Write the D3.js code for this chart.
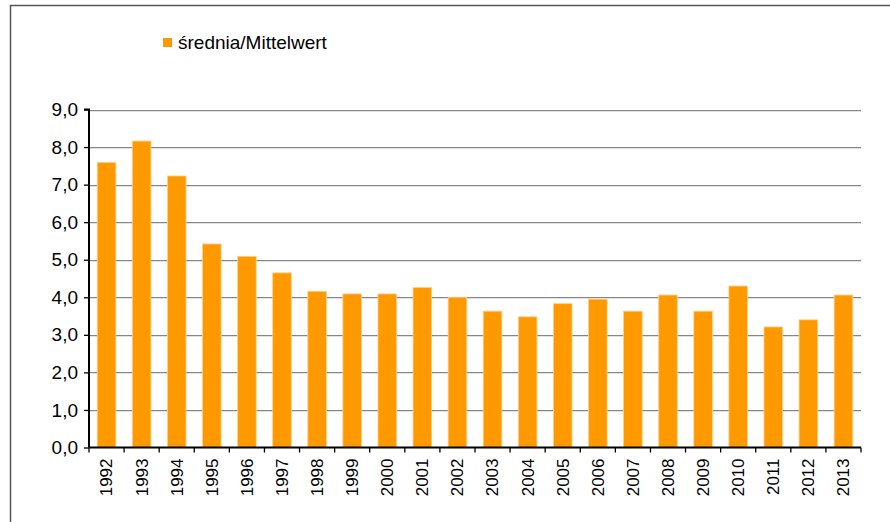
<!DOCTYPE html>
<html>
<head>
<meta charset="utf-8">
<script src="https://cdn.jsdelivr.net/npm/d3@7"></script>
<style>
  body { margin: 0; background: #fff; }
  svg { display: block; font-family: "Liberation Sans", Arial, sans-serif; }
</style>
</head>
<body>
<svg id="chart" width="890" height="522"></svg>
<script>
const years = ["1992","1993","1994","1995","1996","1997","1998","1999","2000","2001","2002",
               "2003","2004","2005","2006","2007","2008","2009","2010","2011","2012","2013"];
const values = [7.59, 8.16, 7.23, 5.42, 5.09, 4.65, 4.16, 4.09, 4.09, 4.26, 4.00,
                3.63, 3.48, 3.83, 3.95, 3.63, 4.06, 3.63, 4.30, 3.21, 3.40, 4.06];
const yTicks = [0,1,2,3,4,5,6,7,8,9];
const seriesName = "średnia/Mittelwert";

const svg = d3.select("#chart");
const pL = 89, pR = 861, pT = 109.5, pB = 447.5;

// outer frame
svg.append("path").attr("d", `M10.5,522 L10.5,5.5 L890,5.5`)
  .attr("fill", "none").attr("stroke", "#555").attr("stroke-width", 1.5);

const x = d3.scaleBand().domain(years).range([pL, pR])
  .paddingInner(0.47).paddingOuter(0.235);
const y = d3.scaleLinear().domain([0, 9]).range([pB, pT]);

// gridlines
const grid = svg.append("g");
yTicks.filter(t => t > 0).forEach(t => {
  grid.append("line").attr("x1", pL).attr("x2", pR)
    .attr("y1", Math.round(y(t)) + 1.5).attr("y2", Math.round(y(t)) + 1.5)
    .attr("stroke", "#e2e2e2").attr("stroke-width", 1);
  grid.append("line").attr("x1", pL).attr("x2", pR)
    .attr("y1", Math.round(y(t)) + 0.5).attr("y2", Math.round(y(t)) + 0.5)
    .attr("stroke", "#868686").attr("stroke-width", 1.2);
});

// bars
svg.append("g").selectAll("rect").data(years).join("rect")
  .attr("x", (d) => x(d))
  .attr("y", (d, i) => y(values[i]))
  .attr("width", x.bandwidth())
  .attr("height", (d, i) => y(0) - y(values[i]))
  .attr("fill", "#FF9900")
  .attr("stroke", "#FFD08A").attr("stroke-width", 0.8);

// y axis
const yAxis = d3.axisLeft(y).tickValues(yTicks).tickSize(5).tickPadding(6)
  .tickFormat(d => d.toFixed(1).replace(".", ","));
const gy = svg.append("g").attr("transform", `translate(${pL},0)`).call(yAxis);
gy.select(".domain").attr("stroke", "#000").attr("stroke-width", 2).attr("d", `M-5,${pT}H0V${pB}`);
gy.selectAll(".tick line").attr("stroke", "#000").attr("stroke-width", 1.3);
gy.selectAll(".tick text").attr("font-size", 19).attr("fill", "#000")
  .attr("font-family", "Liberation Sans, Arial, sans-serif");

// x axis
const xAxis = d3.axisBottom(x).tickSize(0).tickPadding(0);
const gx = svg.append("g").attr("transform", `translate(0,${pB})`).call(xAxis);
gx.select(".domain").attr("stroke", "#000").attr("stroke-width", 2.2).attr("d", `M${pL},0H${pR}`);
gx.selectAll(".tick text")
  .attr("font-size", 17).attr("fill", "#000")
  .attr("font-family", "Liberation Sans, Arial, sans-serif")
  .attr("transform", "rotate(-90)")
  .attr("text-anchor", "end")
  .attr("x", -11).attr("y", 0).attr("dy", "0.35em");

// boundary ticks on x axis
const bounds = years.map(d => x(d) + x.bandwidth() / 2 - x.step() / 2)
  .concat([x(years[years.length - 1]) + x.bandwidth() / 2 + x.step() / 2]);
gx.selectAll(".btick").data(bounds).join("line")
  .attr("class", "btick")
  .attr("x1", d => d).attr("x2", d => d)
  .attr("y1", 0).attr("y2", 5)
  .attr("stroke", "#000").attr("stroke-width", 1.3);

// legend
const lg = svg.append("g").attr("transform", "translate(163,38)");
lg.append("rect").attr("width", 9).attr("height", 9).attr("fill", "#FF9900");
lg.append("text").attr("x", 15).attr("y", 4.5).attr("dy", "0.36em")
  .attr("font-size", 19).attr("fill", "#000").text(seriesName);
</script>
</body>
</html>
